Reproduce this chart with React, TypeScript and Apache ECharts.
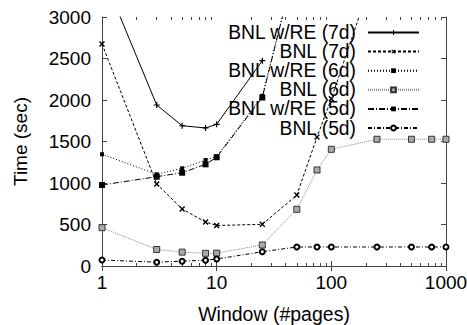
import React, { useEffect, useRef } from "react";
import * as echarts from "echarts";

const windowSizes = [1, 3, 5, 8, 10, 25, 50, 75, 100, 250, 500, 750, 1000];
const seriesNames = ["BNL w/RE (7d)", "BNL (7d)", "BNL w/RE (6d)", "BNL (6d)", "BNL w/RE (5d)", "BNL (5d)"];
const bnlRe7d = [3530, 1940, 1690, 1663, 1707, 2474];
const bnl7d = [2675, 988, 687, 530, 488, 502, 855, 1553, 2015, 3640];
const bnlRe6d = [1346, 1105, 1177, 1277, 1320, 2050, 3700];
const bnl6d = [462, 199, 167, 153, 155, 253, 683, 1157, 1406, 1527, 1527, 1527, 1527];
const bnlRe5d = [976, 1076, 1124, 1225, 1310, 2030, 3700];
const bnl5d = [72, 46, 58, 70, 84, 172, 229, 229, 229, 229, 229, 229, 229];
const minorTicks = [2, 3, 4, 5, 6, 7, 8, 9, 20, 30, 40, 50, 60, 70, 80, 90, 200, 300, 400, 500, 600, 700, 800, 900];

const FONT = "'Liberation Sans', Arial, Helvetica, sans-serif";
const AXIS_COLOR = "#444";
const PLUS = "path://M4,0H6V10H4Z M0,4H10V6H0Z";
const GRID = { left: 102, right: 21, top: 17, bottom: 59, outerBoundsMode: "none", containLabel: false };

const pairs = (ys: number[]) => ys.map((y, i) => [windowSizes[i], y]);

export default function App() {
  const ref = useRef<HTMLDivElement>(null);
  useEffect(() => {
    document.body.style.margin = "0";
    const chart = echarts.init(ref.current!, null, { renderer: "svg" });
    const minorAxis = (position: "top" | "bottom") => ({
      type: "value",
      gridIndex: 1,
      position,
      min: 0,
      max: 3,
      axisLine: { show: false },
      axisLabel: { show: false },
      splitLine: { show: false },
      axisTick: {
        show: true,
        inside: true,
        length: 3,
        customValues: minorTicks.map((v) => Math.log10(v)),
        lineStyle: { color: AXIS_COLOR, width: 1 },
      },
    });
    const base = {
      type: "line",
      xAxisIndex: 0,
      yAxisIndex: 0,
      clip: true,
      color: "#000",
    };
    const plain = (v: number) => String(v);
    chart.setOption({
      animation: false,
      grid: [{ ...GRID }, { ...GRID }],
      legend: {
        orient: "vertical",
        right: 47,
        top: 23,
        align: "right",
        padding: 0,
        itemWidth: 51,
        itemHeight: 6,
        itemGap: 0.1,
        textStyle: { fontSize: 19.3, fontFamily: FONT, color: "#000", padding: [0, 7, 0, 0] },
        data: seriesNames,
      },
      xAxis: [
        {
          type: "log",
          logBase: 10,
          gridIndex: 0,
          min: 1,
          max: 1000,
          position: "bottom",
          name: "Window (#pages)",
          nameLocation: "middle",
          nameGap: 38,
          nameTextStyle: { fontSize: 19.5, fontFamily: FONT, color: "#000" },
          axisLine: { show: true, lineStyle: { color: AXIS_COLOR, width: 1 } },
          axisTick: { show: true, inside: true, length: 5, lineStyle: { color: AXIS_COLOR } },
          axisLabel: { fontSize: 19, fontFamily: FONT, color: "#000", margin: 7, formatter: plain },
          splitLine: { show: false },
          minorTick: { show: false },
        },
        {
          type: "log",
          logBase: 10,
          gridIndex: 0,
          min: 1,
          max: 1000,
          position: "top",
          axisLine: { show: true, lineStyle: { color: AXIS_COLOR, width: 1 } },
          axisTick: { show: true, inside: true, length: 5, lineStyle: { color: AXIS_COLOR } },
          axisLabel: { show: false },
          splitLine: { show: false },
          minorTick: { show: false },
        },
        minorAxis("bottom"),
        minorAxis("top"),
      ],
      yAxis: [
        {
          type: "value",
          gridIndex: 0,
          min: 0,
          max: 3000,
          interval: 500,
          position: "left",
          name: "Time (sec)",
          nameLocation: "middle",
          nameGap: 72,
          nameTextStyle: { fontSize: 19, fontFamily: FONT, color: "#000" },
          axisLine: { show: true, lineStyle: { color: AXIS_COLOR, width: 1 } },
          axisTick: { show: true, inside: true, length: 5, lineStyle: { color: AXIS_COLOR } },
          axisLabel: { fontSize: 19, fontFamily: FONT, color: "#000", margin: 11, formatter: plain },
          splitLine: { show: false },
        },
        {
          type: "value",
          gridIndex: 0,
          min: 0,
          max: 3000,
          interval: 500,
          position: "right",
          axisLine: { show: true, lineStyle: { color: AXIS_COLOR, width: 1 } },
          axisTick: { show: true, inside: true, length: 5, lineStyle: { color: AXIS_COLOR } },
          axisLabel: { show: false },
          splitLine: { show: false },
        },
        {
          type: "value",
          gridIndex: 1,
          min: 0,
          max: 1,
          show: false,
        },
      ],
      series: [
        {
          ...base,
          name: seriesNames[0],
          data: pairs(bnlRe7d),
          symbol: PLUS,
          symbolSize: 6,
          lineStyle: { color: "#000", width: 1, type: "solid" },
          itemStyle: { color: "#000" },
        },
        {
          ...base,
          name: seriesNames[1],
          data: pairs(bnl7d),
          symbol: PLUS,
          symbolRotate: 45,
          symbolSize: 7,
          lineStyle: { color: "#000", width: 1, type: [3, 2] },
          itemStyle: { color: "#000" },
        },
        {
          ...base,
          name: seriesNames[2],
          data: pairs(bnlRe6d),
          symbol: "rect",
          symbolSize: 4,
          lineStyle: { color: "#000", width: 1, type: [1, 2] },
          itemStyle: { color: "#000" },
        },
        {
          ...base,
          name: seriesNames[3],
          data: pairs(bnl6d),
          symbol: "rect",
          symbolSize: 6,
          color: "#999",
          lineStyle: { color: "#888", width: 1, type: [1, 1] },
          itemStyle: { color: "#aaa", borderColor: "#333", borderWidth: 1 },
        },
        {
          ...base,
          name: seriesNames[4],
          data: pairs(bnlRe5d),
          symbol: "rect",
          symbolSize: 6,
          lineStyle: { color: "#000", width: 1, type: [6, 2, 1, 2] },
          itemStyle: { color: "#000" },
        },
        {
          ...base,
          name: seriesNames[5],
          data: pairs(bnl5d),
          symbol: "emptyCircle",
          symbolSize: 5,
          lineStyle: { color: "#000", width: 1, type: [4, 2, 1, 2] },
          itemStyle: { color: "#000", borderColor: "#000", borderWidth: 1 },
        },
      ],
    });
    return () => chart.dispose();
  }, []);
  return <div ref={ref} style={{ width: 467, height: 325 }} />;
}
